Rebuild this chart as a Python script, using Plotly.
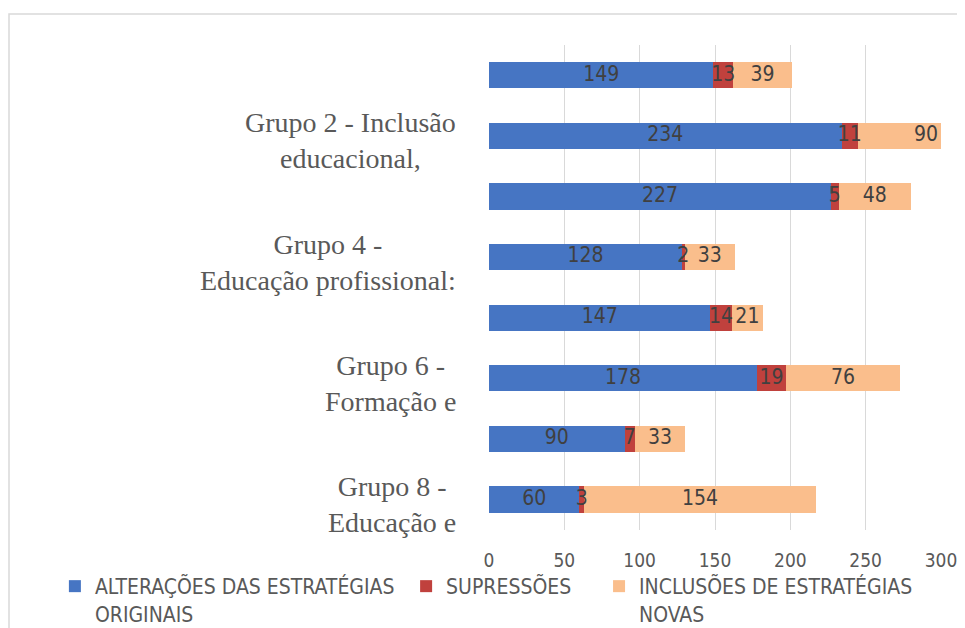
import plotly.graph_objects as go

# ---- data ----
groups = ["Grupo 1", "Grupo 2", "Grupo 3", "Grupo 4", "Grupo 5", "Grupo 6", "Grupo 7", "Grupo 8"]
group_labels = ["", "Grupo 2 - Inclusão<br>educacional,", "", "Grupo 4 -<br>Educação profissional:",
                "", "Grupo 6 -<br>Formação e", "", "Grupo 8 -<br>Educação e"]
alteracoes = [149, 234, 227, 128, 147, 178, 90, 60]
supressoes = [13, 11, 5, 2, 14, 19, 7, 3]
inclusoes = [39, 90, 48, 33, 21, 76, 33, 154]
series_names = ["ALTERAÇÕES DAS ESTRATÉGIAS<br>ORIGINAIS", "SUPRESSÕES", "INCLUSÕES DE ESTRATÉGIAS<br>NOVAS"]
x_ticks = [0, 50, 100, 150, 200, 250, 300]

colors = ["#4675c3", "#c0413d", "#fabe8c"]
NARROW = "DejaVu Sans Condensed, DejaVu Sans, sans-serif"
SERIF = "Liberation Serif, Times New Roman, serif"
GRAY = "#595959"

series = [alteracoes, supressoes, inclusoes]

fig = go.Figure()
for i, (vals, name) in enumerate(zip(series, series_names)):
    fig.add_trace(go.Bar(
        y=groups, x=vals, orientation="h", name=name,
        marker=dict(color=colors[i], line=dict(width=0)),
        width=0.43,
        legend="legend" if i == 0 else f"legend{i+1}",
        hoverinfo="x+y",
    ))

# data labels drawn on top of all bars, at the centre of each stacked segment
base = [0] * len(groups)
for vals in series:
    centers = [b + v / 2 for b, v in zip(base, vals)]
    fig.add_trace(go.Scatter(
        x=centers, y=groups, mode="text", text=[str(v) for v in vals],
        textposition="middle center", showlegend=False, hoverinfo="skip", cliponaxis=False,
        textfont=dict(family=NARROW, size=21, color="#404040"),
    ))
    base = [b + v for b, v in zip(base, vals)]

for g, lab in zip(groups, group_labels):
    if lab:
        fig.add_annotation(x=0, xref="paper", y=g, yref="y", text=lab, showarrow=False,
                           xanchor="right", yanchor="middle", align="center", xshift=-31, yshift=-5,
                           font=dict(family=SERIF, size=28, color=GRAY))

# outer frame
fig.add_shape(type="rect", xref="paper", yref="paper",
              x0=(1 - 481) / 452, x1=1.2, y0=-0.3, y1=(522 - 6) / 485,
              line=dict(color="#d9d9d9", width=1.5), layer="below")

leg_common = dict(xref="container", yref="container", xanchor="left", yanchor="top",
                  orientation="h", valign="top", bgcolor="rgba(0,0,0,0)",
                  font=dict(family=NARROW, size=21, color=GRAY))

fig.update_layout(
    width=957, height=620,
    margin=dict(l=481, r=24, t=37, b=98, autoexpand=False),
    paper_bgcolor="white", plot_bgcolor="white",
    barmode="stack",
    showlegend=True,
    xaxis=dict(range=[0, 300], tickvals=x_ticks, showgrid=True, gridcolor="#d9d9d9", gridwidth=1,
               zeroline=False, showline=False, ticks="",
               tickfont=dict(family=NARROW, size=19, color=GRAY), ticklabelstandoff=17),
    yaxis=dict(categoryorder="array", categoryarray=groups, autorange="reversed",
               showgrid=False, showticklabels=False, zeroline=False, showline=False, ticks=""),
    legend=dict(x=0.049, y=0.1, **leg_common),
    legend2=dict(x=0.416, y=0.1, **leg_common),
    legend3=dict(x=0.6176, y=0.1, **leg_common),
)

fig.write_html("out.html")
